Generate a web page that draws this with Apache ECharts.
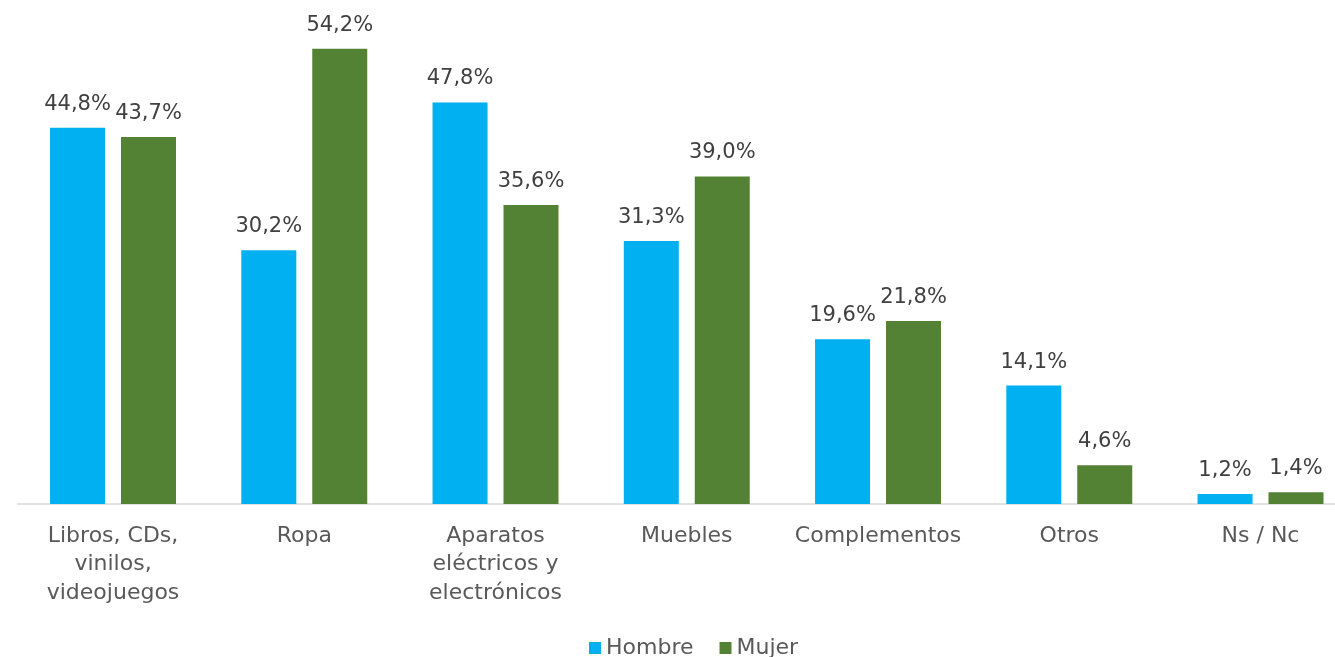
<!DOCTYPE html>
<html>
<head>
<meta charset="utf-8">
<script src="https://cdn.jsdelivr.net/npm/echarts@6/dist/echarts.min.js"></script>
<style>html,body{margin:0;padding:0;background:#fff}#c{width:1335px;height:657px}</style>
</head>
<body>
<div id="c"></div>
<script>
const categories = ["Libros, CDs,\nvinilos,\nvideojuegos", "Ropa", "Aparatos\neléctricos y\nelectrónicos", "Muebles", "Complementos", "Otros", "Ns / Nc"];
const hombre = [44.8, 30.2, 47.8, 31.3, 19.6, 14.1, 1.2];
const mujer = [43.7, 54.2, 35.6, 39.0, 21.8, 4.6, 1.4];
const seriesNames = ["Hombre", "Mujer"];

const FONT = "DejaVu Sans";
const chart = echarts.init(document.getElementById('c'));
const fmt = p => p.value.toFixed(1).replace('.', ',') + '%';
const labelCfg = {show: true, position: 'top', distance: 13, formatter: fmt, color: '#404040', fontSize: 21, fontFamily: FONT};
chart.setOption({
  animation: false,
  textStyle: {fontFamily: FONT},
  grid: {left: 17.4, width: 1338.75, top: 0, bottom: 153, containLabel: false, outerBoundsMode: 'none'},
  legend: {
    data: seriesNames, left: 584, top: 632, itemWidth: 12, itemHeight: 12, itemGap: 26,
    icon: 'rect', textStyle: {color: '#595959', fontSize: 22, fontFamily: FONT}
  },
  xAxis: {
    type: 'category', data: categories,
    axisLine: {lineStyle: {color: '#d9d9d9', width: 1.5}},
    axisTick: {show: false},
    axisLabel: {color: '#595959', fontSize: 22, fontFamily: FONT, margin: 18, lineHeight: 28.5, interval: 0}
  },
  yAxis: {type: 'value', min: 0, max: 60, show: false, splitLine: {show: false}},
  series: [
    {name: seriesNames[0], type: 'bar', data: hombre, barWidth: 55, barGap: '29%', itemStyle: {color: '#00b0f0'}, label: labelCfg},
    {name: seriesNames[1], type: 'bar', data: mujer, barWidth: 55, barGap: '29%', itemStyle: {color: '#548235'}, label: labelCfg}
  ]
});
</script>
</body>
</html>
